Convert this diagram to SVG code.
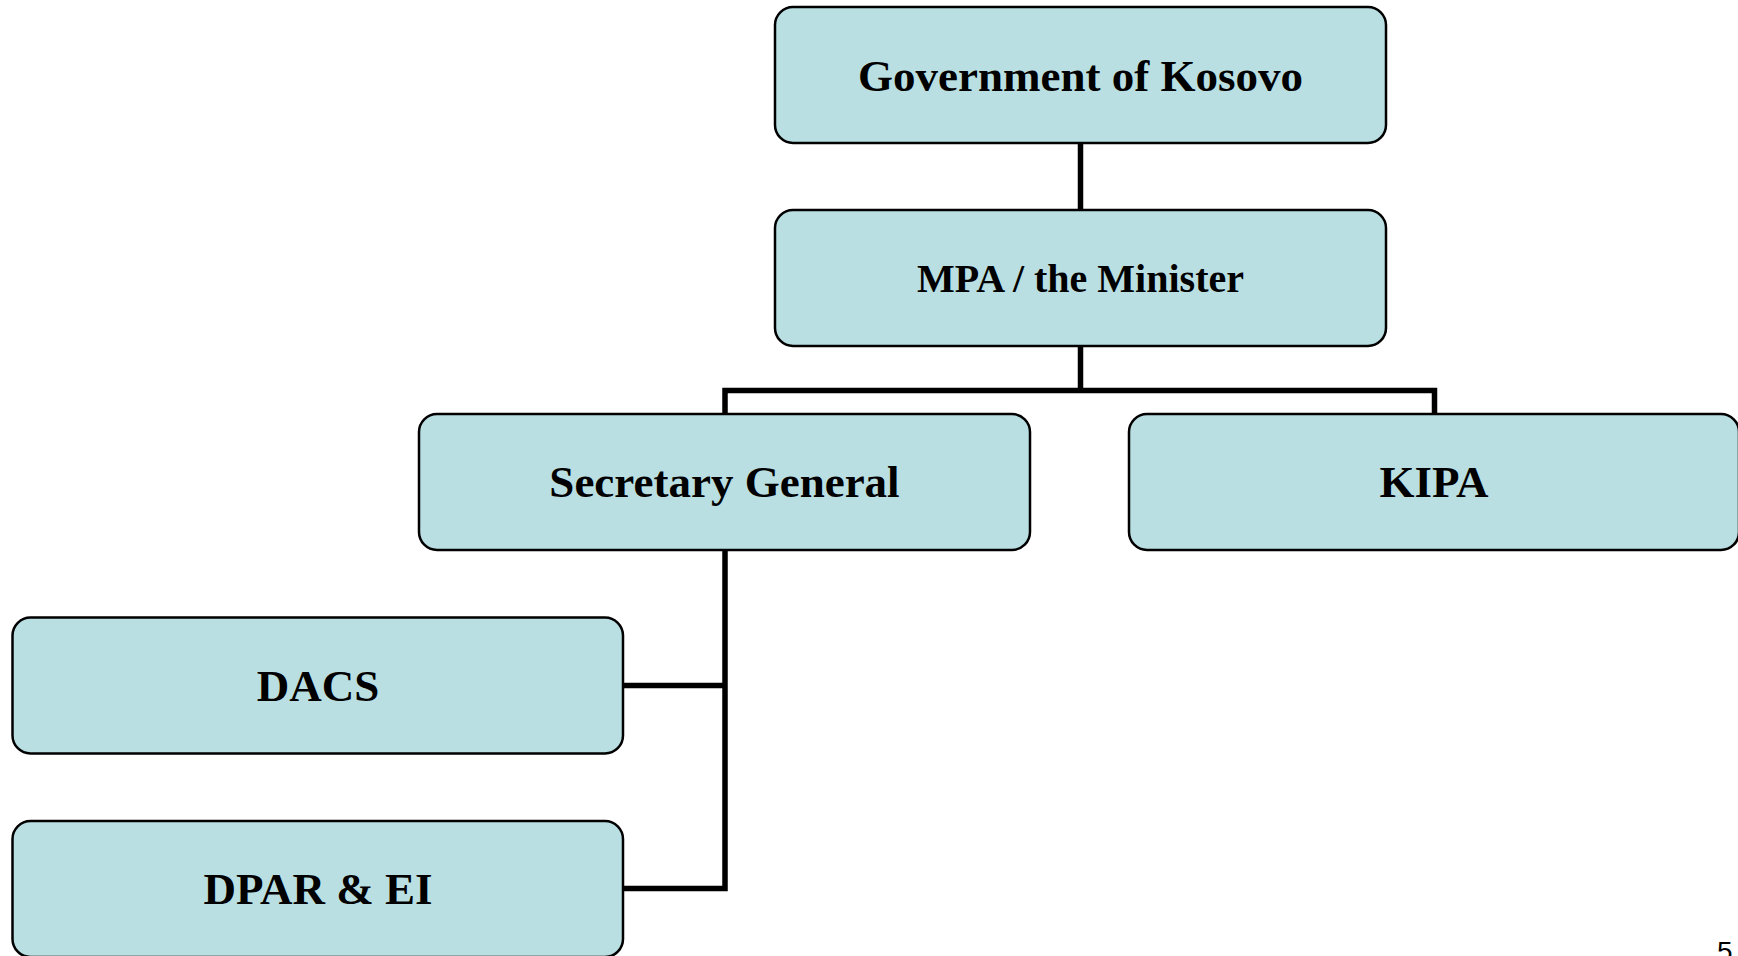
<svg xmlns="http://www.w3.org/2000/svg" width="1738" height="956" viewBox="0 0 1738 956">
<style>
.box{fill:#B9DFE3;stroke:#000;stroke-width:2.5}
.lbl{font-family:"Liberation Serif","Times New Roman",serif;font-weight:bold;font-size:45px;fill:#000;text-anchor:middle}
.conn{fill:none;stroke:#000;stroke-width:5.5;stroke-linejoin:miter}
</style>
<rect width="1738" height="956" fill="#fff"/>
<g id="connectors">
<path class="conn" d="M1080.5 143 V210"/>
<path class="conn" d="M1080.5 346 V390.5"/>
<path class="conn" d="M725 414 V390.5 H1434.5 V414"/>
<path class="conn" d="M725 550 V888.5 H623"/>
<path class="conn" d="M623 685.5 H725"/>
</g>
<g id="gov">
<rect class="box" x="775" y="7" width="611" height="136" rx="18"/>
<text class="lbl" x="1080.5" y="91">Government of Kosovo</text>
</g>
<g id="mpa">
<rect class="box" x="775" y="210" width="611" height="136" rx="18"/>
<text class="lbl" x="1080.5" y="292" style="font-size:40px">MPA / the Minister</text>
</g>
<g id="sg">
<rect class="box" x="419" y="414" width="611" height="136" rx="18"/>
<text class="lbl" x="724.5" y="497">Secretary General</text>
</g>
<g id="kipa">
<rect class="box" x="1129" y="414" width="610" height="136" rx="18"/>
<text class="lbl" x="1434" y="497">KIPA</text>
</g>
<g id="dacs">
<rect class="box" x="12.5" y="617.5" width="610.5" height="136" rx="18"/>
<text class="lbl" x="318" y="701">DACS</text>
</g>
<g id="dpar">
<rect class="box" x="12.5" y="821" width="610.5" height="136" rx="18"/>
<text class="lbl" x="318" y="904">DPAR &amp; EI</text>
</g>
<text x="1717" y="961" style="font-family:'Liberation Sans',Arial,sans-serif;font-size:28px;fill:#000">5</text>
</svg>
